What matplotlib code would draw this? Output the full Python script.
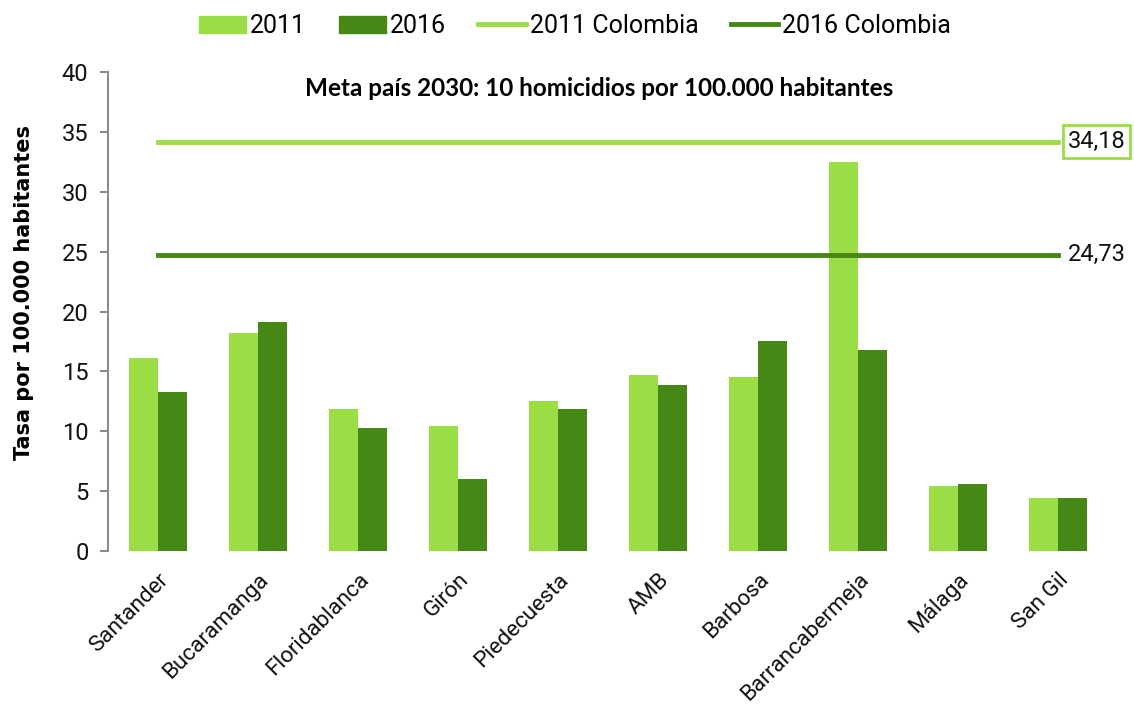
import matplotlib
matplotlib.use("Agg")
import matplotlib.pyplot as plt
from matplotlib.patches import Patch
from matplotlib.lines import Line2D
import numpy as np

municipios = ['Santander', 'Bucaramanga', 'Floridablanca', 'Girón', 'Piedecuesta',
              'AMB', 'Barbosa', 'Barrancabermeja', 'Málaga', 'San Gil']
tasa_2011 = [16.1, 18.2, 11.9, 10.4, 12.5, 14.7, 14.5, 32.5, 5.4, 4.4]
tasa_2016 = [13.3, 19.1, 10.3, 6.0, 11.9, 13.9, 17.5, 16.8, 5.6, 4.4]
colombia_2011 = 34.18
colombia_2016 = 24.73
yticks = [0, 5, 10, 15, 20, 25, 30, 35, 40]

LIGHT = '#9BDD45'
DARK = '#458815'
FONT = ['Roboto', 'DejaVu Sans']

fig = plt.figure(figsize=(11.34, 7.06), dpi=100)
ax = fig.add_axes([0.0952, 0.2195, 0.882, 0.6785])

x = np.arange(len(municipios))
w = 0.29
ax.bar(x - w / 2, tasa_2011, w, color=LIGHT, zorder=2)
ax.bar(x + w / 2, tasa_2016, w, color=DARK, zorder=2)

ax.plot([x[0], x[-1]], [colombia_2011] * 2, color=LIGHT, lw=3.5, zorder=3)
ax.plot([x[0], x[-1]], [colombia_2016] * 2, color=DARK, lw=3.5, zorder=3)

ax.text(x[-1] + 0.1, colombia_2011, '34,18', va='center', ha='left', fontsize=17,
        family=FONT, color='#111111',
        bbox=dict(boxstyle='square,pad=0.2', fc='white', ec=LIGHT, lw=2))
ax.text(x[-1] + 0.1, colombia_2016, '24,73', va='center', ha='left', fontsize=17,
        family=FONT, color='#111111')

ax.set_xlim(-0.5, 9.5)
ax.set_ylim(0, 40)
ax.set_yticks(yticks)
ax.set_yticklabels([str(t) for t in yticks], family=FONT, fontsize=17, color='#111111')
ax.set_xticks(x)
ax.set_xticklabels(municipios, rotation=45, ha='right', rotation_mode='anchor',
                   family=FONT, fontsize=16.2, color='#111111')
ax.tick_params(axis='x', length=0, pad=13)
ax.tick_params(axis='y', length=6, width=1.5, color='#8c8c8c', pad=8)

for s in ['top', 'right', 'bottom']:
    ax.spines[s].set_visible(False)
ax.spines['left'].set_color('#8c8c8c')
ax.spines['left'].set_linewidth(1.5)

ax.set_ylabel('Tasa por 100.000 habitantes', family='DejaVu Sans', fontsize=15,
              fontweight='bold')
ax.yaxis.set_label_coords(-0.074, 0.54)

ax.text(0.491, 0.99, 'Meta país 2030: 10 homicidios por 100.000 habitantes',
        transform=ax.transAxes, ha='center', va='top', fontsize=17.5,
        fontweight='bold', family=['Lato', 'DejaVu Sans'])

handles = [Patch(color=LIGHT), Patch(color=DARK),
           Line2D([], [], color=LIGHT, lw=3.5), Line2D([], [], color=DARK, lw=3.5)]
labels = ['2011', '2016', '2011 Colombia', '2016 Colombia']
fig.legend(handles, labels, loc='center', bbox_to_anchor=(0.507, 0.963), ncol=4,
           frameon=False, prop={'family': FONT, 'size': 18},
           handlelength=1.9, handletextpad=0.15, columnspacing=1.3)

fig.savefig('out.png', dpi=100)
